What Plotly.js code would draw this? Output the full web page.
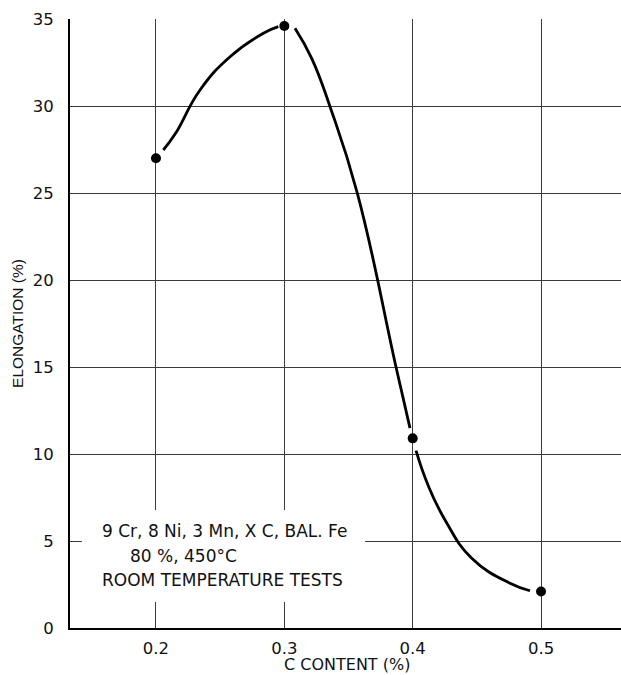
<!DOCTYPE html>
<html>
<head>
<meta charset="utf-8">
<script src="https://cdn.plot.ly/plotly-3.0.1.min.js"></script>
<style>html,body{margin:0;padding:0;background:#fff;}#chart{width:621px;height:675px;}</style>
</head>
<body>
<div id="chart"></div>
<script>
// Measured data points
const cContent = [0.2, 0.3, 0.4, 0.5];
const elongation = [27.0, 34.6, 10.9, 2.1];

// Hand-drawn fitted curve (three segments, gaps at points)
const curveX = [0.2057, 0.2150, 0.2343, 0.2577, 0.2837, 0.2953, null,
                0.3083, 0.3213, 0.3356, 0.3569, 0.3870, 0.3979, null,
                0.4026, 0.4120, 0.4252, 0.4460, 0.4758, 0.4914];
const curveY = [27.47, 28.40, 30.92, 32.83, 34.18, 34.56, null,
                34.47, 32.74, 29.96, 24.98, 15.0, 11.49, null,
                10.19, 8.2, 6.21, 4.01, 2.57, 2.14];

const xTicks = [0.2, 0.3, 0.4, 0.5];
const xTickText = ['0.2', '0.3', '0.4', '0.5'];
const yTicks = [0, 5, 10, 15, 20, 25, 30, 35];

const xTitle = 'C CONTENT (%)';
const yTitle = 'ELONGATION (%)';
const noteLines = ['9 Cr, 8 Ni, 3 Mn, X C, BAL. Fe', '80 %, 450°C', 'ROOM TEMPERATURE TESTS'];

const traces = [
  {x: curveX, y: curveY, type: 'scatter', mode: 'lines', connectgaps: false,
   line: {color: '#000', width: 2.8, shape: 'spline', smoothing: 1.3}, hoverinfo: 'skip'},
  {x: cContent, y: elongation, type: 'scatter', mode: 'markers',
   marker: {color: '#000', size: 10}}
];

const font = 'DejaVu Sans, sans-serif';
const layout = {
  width: 621, height: 675,
  margin: {l: 70, r: 0, t: 19, b: 47},
  paper_bgcolor: '#fff', plot_bgcolor: '#fff',
  showlegend: false,
  font: {family: font, color: '#111', size: 16},
  xaxis: {
    range: [0.1330, 0.5623], tickvals: xTicks, ticktext: xTickText,
    showgrid: true, gridcolor: '#3a3a3a', gridwidth: 1,
    zeroline: false, showline: true, linecolor: '#000', linewidth: 2,
    ticks: '', ticklabelstandoff: 4,
    tickfont: {family: font, size: 16.5, color: '#111'}
  },
  yaxis: {
    range: [0, 35], tickvals: yTicks,
    showgrid: true, gridcolor: '#3a3a3a', gridwidth: 1,
    zeroline: false, showline: true, linecolor: '#000', linewidth: 2,
    ticks: '', ticklabelstandoff: 11,
    tickfont: {family: font, size: 16.5, color: '#111'},
    title: {text: yTitle, font: {family: 'Liberation Sans, Arial, sans-serif', size: 15.5, color: '#111'}, standoff: 5}
  },
  shapes: [
    {type: 'rect', xref: 'x', yref: 'y', x0: 0.1423, x1: 0.3629, y0: 1.5, y1: 6.78,
     fillcolor: '#fff', line: {width: 0}, layer: 'above'}
  ],
  annotations: [
    {x: 0.503, y: -0.0592, xref: 'paper', yref: 'paper', text: xTitle, showarrow: false, xanchor: 'center', yanchor: 'middle', font: {family: font, size: 16, color: '#111'}},
    {x: 0.1564, y: 5.57, xref: 'x', yref: 'y', text: noteLines[0], showarrow: false, xanchor: 'left', yanchor: 'middle', font: {family: font, size: 17, color: '#111'}},
    {x: 0.1782, y: 4.14, xref: 'x', yref: 'y', text: noteLines[1], showarrow: false, xanchor: 'left', yanchor: 'middle', font: {family: font, size: 17, color: '#111'}},
    {x: 0.1564, y: 2.76, xref: 'x', yref: 'y', text: noteLines[2], showarrow: false, xanchor: 'left', yanchor: 'middle', font: {family: font, size: 17, color: '#111'}}
  ]
};

Plotly.newPlot('chart', traces, layout, {displayModeBar: false, staticPlot: true});
</script>
</body>
</html>
